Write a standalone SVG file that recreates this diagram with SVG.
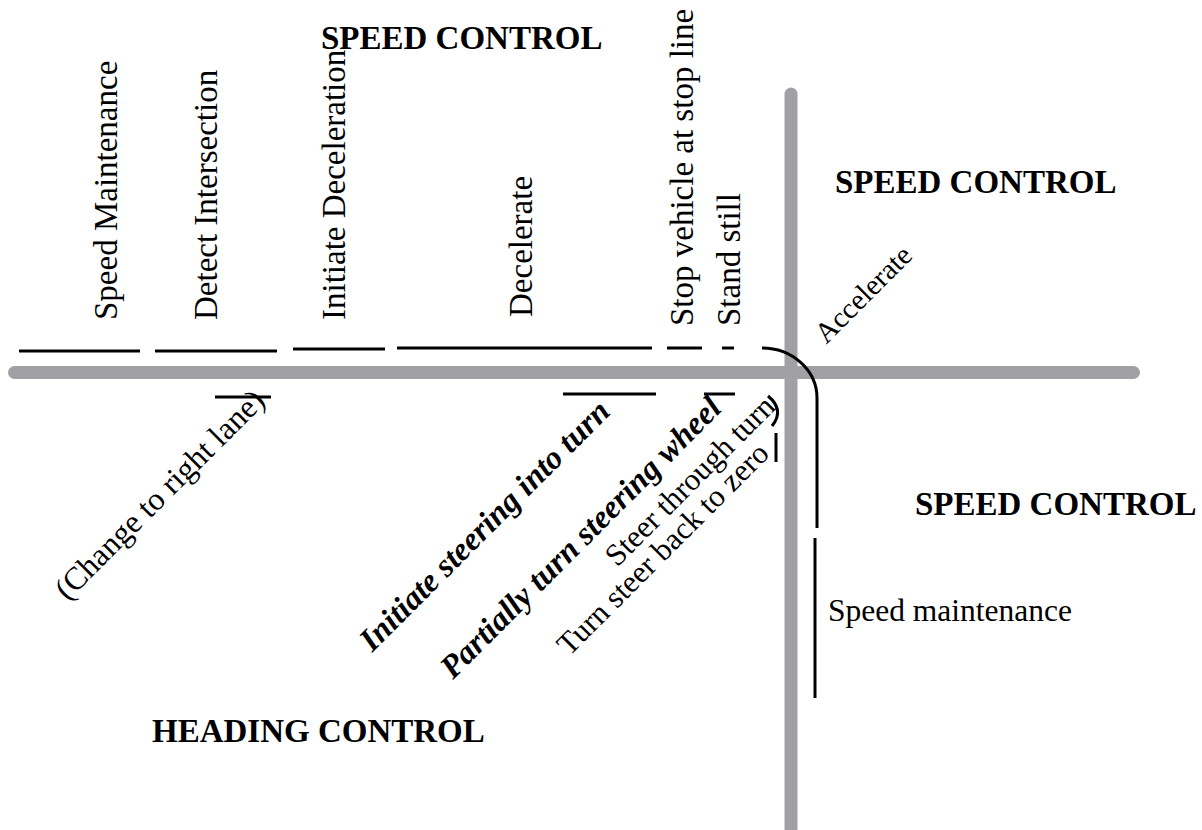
<svg xmlns="http://www.w3.org/2000/svg" width="1202" height="830" viewBox="0 0 1202 830">
  <style>
    .road { stroke: #a1a1a5; stroke-width: 13; stroke-linecap: round; fill: none; }
    .span { stroke: #000; stroke-width: 3; fill: none; }
    .lbl { font-family: "Liberation Serif", "Times New Roman", serif; font-size: 33px; fill: #000; }
    .diag { font-family: "Liberation Serif", "Times New Roman", serif; font-size: 31px; fill: #000; }
    .bi { font-weight: bold; font-style: italic; font-size: 32.5px; }
    .head { font-family: "Liberation Serif", "Times New Roman", serif; font-size: 33px; font-weight: bold; fill: #000; }
  </style>
  <rect width="1202" height="830" fill="#fff"/>

  <!-- intersection roads -->
  <g id="roads">
    <line class="road" x1="14.5" y1="372.5" x2="1133.5" y2="372.5"/>
    <line class="road" x1="791" y1="94" x2="791" y2="845"/>
  </g>

  <!-- task span bars -->
  <g id="connectors">
    <line class="span" x1="19" y1="351" x2="140" y2="351"/>
    <line class="span" x1="155" y1="351" x2="277" y2="351"/>
    <line class="span" x1="293" y1="349" x2="385" y2="349"/>
    <line class="span" x1="397" y1="348" x2="652" y2="348"/>
    <line class="span" x1="667" y1="348" x2="702" y2="348"/>
    <line class="span" x1="722" y1="348" x2="734" y2="348"/>
    <path class="span" d="M762,348 A55,50 0 0 1 817,398 L817,528"/>
    <line class="span" x1="815" y1="538" x2="815" y2="698"/>
    <line class="span" x1="215" y1="397" x2="271" y2="397"/>
    <line class="span" x1="563" y1="394" x2="656" y2="394"/>
    <line class="span" x1="704" y1="394" x2="735" y2="394"/>
    <path class="span" d="M768,396 Q785,410 772,426"/>
    <line class="span" x1="776" y1="433" x2="776" y2="462"/>
  </g>

  <!-- headings -->
  <g id="speed-control-top"><text class="head" x="321" y="49">SPEED CONTROL</text></g>
  <g id="speed-control-right"><text class="head" x="835" y="193">SPEED CONTROL</text></g>
  <g id="speed-control-lower"><text class="head" x="915" y="515">SPEED CONTROL</text></g>
  <g id="heading-control"><text class="head" x="152" y="742">HEADING CONTROL</text></g>

  <!-- longitudinal tasks -->
  <g id="speed-maintenance-1"><text class="lbl" transform="translate(117,320) rotate(-90)">Speed Maintenance</text></g>
  <g id="detect-intersection"><text class="lbl" transform="translate(217,320) rotate(-90)">Detect Intersection</text></g>
  <g id="initiate-deceleration"><text class="lbl" transform="translate(345,320) rotate(-90)">Initiate Deceleration</text></g>
  <g id="decelerate"><text class="lbl" transform="translate(532,317) rotate(-90)">Decelerate</text></g>
  <g id="stop-vehicle"><text class="lbl" transform="translate(693,326) rotate(-90)">Stop vehicle at stop line</text></g>
  <g id="stand-still"><text class="lbl" transform="translate(740,326) rotate(-90)">Stand still</text></g>
  <g id="accelerate"><text class="diag" style="font-size:29px" text-anchor="middle" transform="translate(870,301) rotate(-45)">Accelerate</text></g>
  <g id="speed-maintenance-2"><text class="lbl" style="font-size:31.5px" x="828" y="621">Speed maintenance</text></g>

  <!-- lateral tasks -->
  <g id="change-lane"><text class="diag" style="font-size:32px" text-anchor="middle" transform="translate(167,502) rotate(-45)">(Change to right lane)</text></g>
  <g id="initiate-steering"><text class="diag bi" text-anchor="middle" transform="translate(492,533) rotate(-45)">Initiate steering into turn</text></g>
  <g id="partially-turn"><text class="diag bi" text-anchor="middle" transform="translate(588,545) rotate(-45)">Partially turn steering wheel</text></g>
  <g id="steer-through"><text class="diag" text-anchor="middle" transform="translate(697,488) rotate(-45)">Steer through turn</text></g>
  <g id="turn-steer-back"><text class="diag" text-anchor="middle" transform="translate(670,556) rotate(-45)">Turn steer back to zero</text></g>
</svg>
